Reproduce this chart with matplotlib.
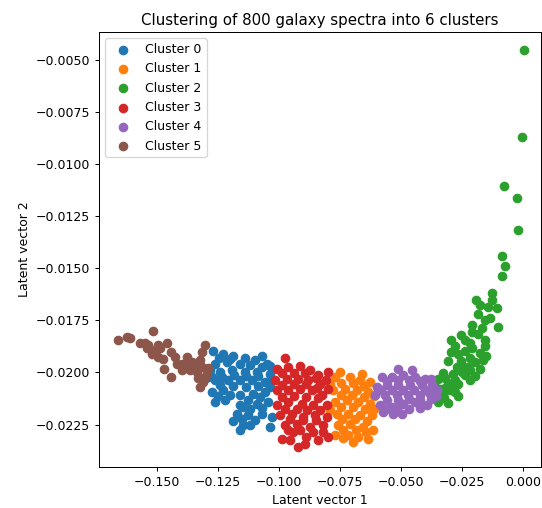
import numpy as np
import matplotlib
matplotlib.use("Agg")
import matplotlib.pyplot as plt

# latent coordinates, one pair of arrays per cluster
c0_x = [-0.1269, -0.1228, -0.1187, -0.1071, -0.1262, -0.1214, -0.1160, -0.1119, -0.1050,
        -0.1283, -0.1242, -0.1194, -0.1139, -0.1091, -0.1037, -0.1262, -0.1208, -0.1160,
        -0.1112, -0.1057, -0.1276, -0.1228, -0.1262, -0.1221, -0.1160, -0.1105, -0.1057,
        -0.1146, -0.1091, -0.1044, -0.1173, -0.1126, -0.1071, -0.1187, -0.1146, -0.1160,
        -0.1037, -0.1030,
        -0.1246, -0.1201, -0.1139, -0.1098, -0.1275, -0.1234, -0.1184, -0.1135, -0.1086,
        -0.1037, -0.1070, -0.1242, -0.1189, -0.1135, -0.1086, -0.1037, -0.1201, -0.1078,
        -0.1127, -0.1160, -0.1119, -0.1070, -0.1152, -0.1098, -0.1119, -0.1250, -0.1029,
        -0.1299]
c0_y = [-0.01897, -0.01909, -0.01922, -0.01922, -0.01957, -0.01950, -0.01957, -0.01966, -0.01957,
        -0.01989, -0.01998, -0.01989, -0.01998, -0.01998, -0.02005, -0.02037, -0.02037, -0.02037,
        -0.02037, -0.02046, -0.02094, -0.02085, -0.02141, -0.02133, -0.02109, -0.02101, -0.02094,
        -0.02165, -0.02149, -0.02141, -0.02197, -0.02205, -0.02197, -0.02233, -0.02253, -0.02277,
        -0.02261, -0.02213,
        -0.01932, -0.01937, -0.01932, -0.01942, -0.02023, -0.02023, -0.02013, -0.02018, -0.02018,
        -0.01970, -0.01975, -0.02061, -0.02066, -0.02071, -0.02066, -0.02071, -0.02109, -0.02119,
        -0.02133, -0.02157, -0.02177, -0.02172, -0.02224, -0.02229, -0.02253, -0.02114, -0.02037,
        -0.02028]

c1_x = [-0.0770, -0.0709, -0.0668, -0.0627, -0.0777, -0.0730, -0.0682, -0.0634, -0.0770,
        -0.0723, -0.0675, -0.0627, -0.0764, -0.0716, -0.0668, -0.0620, -0.0757, -0.0709,
        -0.0655, -0.0614, -0.0770, -0.0716, -0.0675, -0.0634, -0.0695, -0.0738,
        -0.0746, -0.0697, -0.0652, -0.0746, -0.0701, -0.0652, -0.0746, -0.0697, -0.0648,
        -0.0742, -0.0689, -0.0639, -0.0738, -0.0684, -0.0643, -0.0791, -0.0791, -0.0611,
        -0.0611, -0.0750, -0.0660]
c1_y = [-0.02022, -0.02022, -0.02037, -0.02046, -0.02085, -0.02077, -0.02085, -0.02094, -0.02141,
        -0.02133, -0.02141, -0.02149, -0.02197, -0.02197, -0.02205, -0.02205, -0.02253, -0.02245,
        -0.02261, -0.02277, -0.02301, -0.02301, -0.02309, -0.02317, -0.02333, -0.02315,
        -0.02052, -0.02052, -0.02066, -0.02109, -0.02109, -0.02119, -0.02167, -0.02167, -0.02177,
        -0.02224, -0.02224, -0.02234, -0.02277, -0.02277, -0.02287, -0.02057, -0.02181, -0.02114,
        -0.02177, -0.01999, -0.02009]

c2_x = [0.0004, -0.0005, -0.0078, -0.0023, -0.0019, -0.0087, -0.0073, -0.0087, -0.0126,
        -0.0193, -0.0142, -0.0108, -0.0183, -0.0156, -0.0210, -0.0101, -0.0254, -0.0186,
        -0.0297, -0.0217, -0.0156, -0.0297, -0.0238, -0.0176, -0.0306, -0.0254, -0.0197,
        -0.0163, -0.0272, -0.0224, -0.0176, -0.0327, -0.0286, -0.0238, -0.0197, -0.0347,
        -0.0306, -0.0265, -0.0340, -0.0299, -0.0361, -0.0327, -0.0347, -0.0306,
        -0.0279, -0.0250, -0.0217, -0.0320, -0.0291, -0.0320, -0.0279, -0.0324, -0.0217,
        -0.0266, -0.0209, -0.0152, -0.0156, -0.0238, -0.0279, -0.0209, -0.0168, -0.0135,
        -0.0176, -0.0127, -0.0250, -0.0217, -0.0266]
c2_y = [-0.00455, -0.00871, -0.01107, -0.01166, -0.01318, -0.01442, -0.01491, -0.01537, -0.01620,
        -0.01654, -0.01686, -0.01690, -0.01718, -0.01750, -0.01774, -0.01783, -0.01822, -0.01815,
        -0.01846, -0.01858, -0.01846, -0.01902, -0.01896, -0.01906, -0.01946, -0.01944, -0.01949,
        -0.01942, -0.01974, -0.01974, -0.01981, -0.02004, -0.02005, -0.02014, -0.02018, -0.02029,
        -0.02052, -0.02053, -0.02077, -0.02085, -0.02070, -0.02109, -0.02141, -0.02145,
        -0.02037, -0.01999, -0.01990, -0.02028, -0.02061, -0.02076, -0.02095, -0.02124, -0.01932,
        -0.01913, -0.01884, -0.01923, -0.01874, -0.01846, -0.01874, -0.01807, -0.01788, -0.01740,
        -0.01678, -0.01654, -0.01970, -0.02037, -0.02114]

c3_x = [-0.0975, -0.1009, -0.0962, -0.0914, -0.0873, -0.0839, -0.0798, -0.1016, -0.0968,
        -0.0921, -0.0880, -0.0832, -0.0798, -0.1009, -0.0962, -0.0914, -0.0866, -0.0825,
        -0.1009, -0.0962, -0.0907, -0.0859, -0.0805, -0.0996, -0.0948, -0.0900, -0.0852,
        -0.0805, -0.0975, -0.0927, -0.0873, -0.0818, -0.0989, -0.0941, -0.0839, -0.0798,
        -0.0921, -0.0893, -0.0818,
        -0.0988, -0.0939, -0.0893, -0.0848, -0.0988, -0.0939, -0.0889, -0.0844, -0.0807,
        -0.0988, -0.0939, -0.0889, -0.0840, -0.0975, -0.0926, -0.0885, -0.0832, -0.0955,
        -0.0902, -0.0848, -0.0963, -0.0914, -0.0861, -0.0889, -0.0955]
c3_y = [-0.01931, -0.01981, -0.01974, -0.01969, -0.01989, -0.02014, -0.01998, -0.02037, -0.02029,
        -0.02029, -0.02037, -0.02053, -0.02077, -0.02085, -0.02085, -0.02077, -0.02085, -0.02109,
        -0.02157, -0.02141, -0.02149, -0.02157, -0.02157, -0.02205, -0.02197, -0.02213, -0.02205,
        -0.02213, -0.02253, -0.02245, -0.02261, -0.02253, -0.02317, -0.02285, -0.02325, -0.02309,
        -0.02357, -0.02341, -0.02285,
        -0.02004, -0.02004, -0.02004, -0.02028, -0.02061, -0.02057, -0.02057, -0.02076, -0.02037,
        -0.02119, -0.02114, -0.02119, -0.02124, -0.02177, -0.02177, -0.02181, -0.02181, -0.02224,
        -0.02229, -0.02229, -0.02277, -0.02277, -0.02287, -0.02311, -0.02325]

c4_x = [-0.0511, -0.0579, -0.0538, -0.0491, -0.0443, -0.0402, -0.0600, -0.0559, -0.0511,
        -0.0463, -0.0415, -0.0374, -0.0607, -0.0566, -0.0518, -0.0470, -0.0422, -0.0381,
        -0.0586, -0.0538, -0.0491, -0.0443, -0.0395, -0.0532, -0.0497, -0.0573, -0.0354,
        -0.0557, -0.0512, -0.0467, -0.0422, -0.0377, -0.0582, -0.0537, -0.0492, -0.0447,
        -0.0402, -0.0557, -0.0512, -0.0467, -0.0422, -0.0377, -0.0561, -0.0516, -0.0467,
        -0.0422, -0.0455, -0.0357]
c4_y = [-0.01981, -0.02022, -0.02022, -0.02014, -0.02022, -0.02029, -0.02070, -0.02061, -0.02061,
        -0.02061, -0.02061, -0.02061, -0.02109, -0.02109, -0.02109, -0.02109, -0.02109, -0.02101,
        -0.02157, -0.02165, -0.02149, -0.02141, -0.02157, -0.02197, -0.02197, -0.02189, -0.02085,
        -0.02042, -0.02037, -0.02037, -0.02042, -0.02033, -0.02085, -0.02085, -0.02085, -0.02085,
        -0.02085, -0.02133, -0.02133, -0.02129, -0.02133, -0.02129, -0.02177, -0.02177, -0.02177,
        -0.02172, -0.01990, -0.02114]

c5_x = [-0.1659, -0.1624, -0.1570, -0.1518, -0.1536, -0.1508, -0.1522, -0.1460, -0.1488,
        -0.1474, -0.1443, -0.1470, -0.1443, -0.1419, -0.1385, -0.1378, -0.1365, -0.1337,
        -0.1324, -0.1317, -0.1303, -0.1317, -0.1303, -0.1324, -0.1310, -0.1399, -0.1495,
        -0.1542, -0.1344, -0.1296,
        -0.1549, -0.1496, -0.1426, -0.1357, -0.1332, -0.1398, -0.1291, -0.1611]
c5_y = [-0.01846, -0.01830, -0.01857, -0.01801, -0.01870, -0.01894, -0.01909, -0.01857, -0.01885,
        -0.01933, -0.01902, -0.01981, -0.02022, -0.01957, -0.01966, -0.01926, -0.01990, -0.01998,
        -0.01942, -0.01902, -0.01870, -0.01974, -0.02022, -0.02070, -0.02046, -0.01957, -0.01926,
        -0.01885, -0.01957, -0.02005,
        -0.01860, -0.01870, -0.01927, -0.01951, -0.02028, -0.01990, -0.01980, -0.01836]

clusters = [(c0_x, c0_y), (c1_x, c1_y), (c2_x, c2_y), (c3_x, c3_y), (c4_x, c4_y), (c5_x, c5_y)]

fig = plt.figure(figsize=(542 / 90, 508 / 90), dpi=90)
ax = fig.add_axes([99 / 542, 41 / 508, 442 / 542, 435 / 508])

for i, (xs, ys) in enumerate(clusters):
    ax.scatter(xs, ys, s=45, label=f"Cluster {i}")

ax.set_xlim(-0.1738, 0.0074)
ax.set_ylim(-0.02453, -0.00368)
ax.set_xticks([-0.150, -0.125, -0.100, -0.075, -0.050, -0.025, 0.000])
ax.set_yticks([-0.0225, -0.0200, -0.0175, -0.0150, -0.0125, -0.0100, -0.0075, -0.0050])
ax.set_title("Clustering of 800 galaxy spectra into 6 clusters")
ax.set_xlabel("Latent vector 1")
ax.set_ylabel("Latent vector 2")
ax.legend(loc="upper left")

fig.savefig("out.png", dpi=90)
